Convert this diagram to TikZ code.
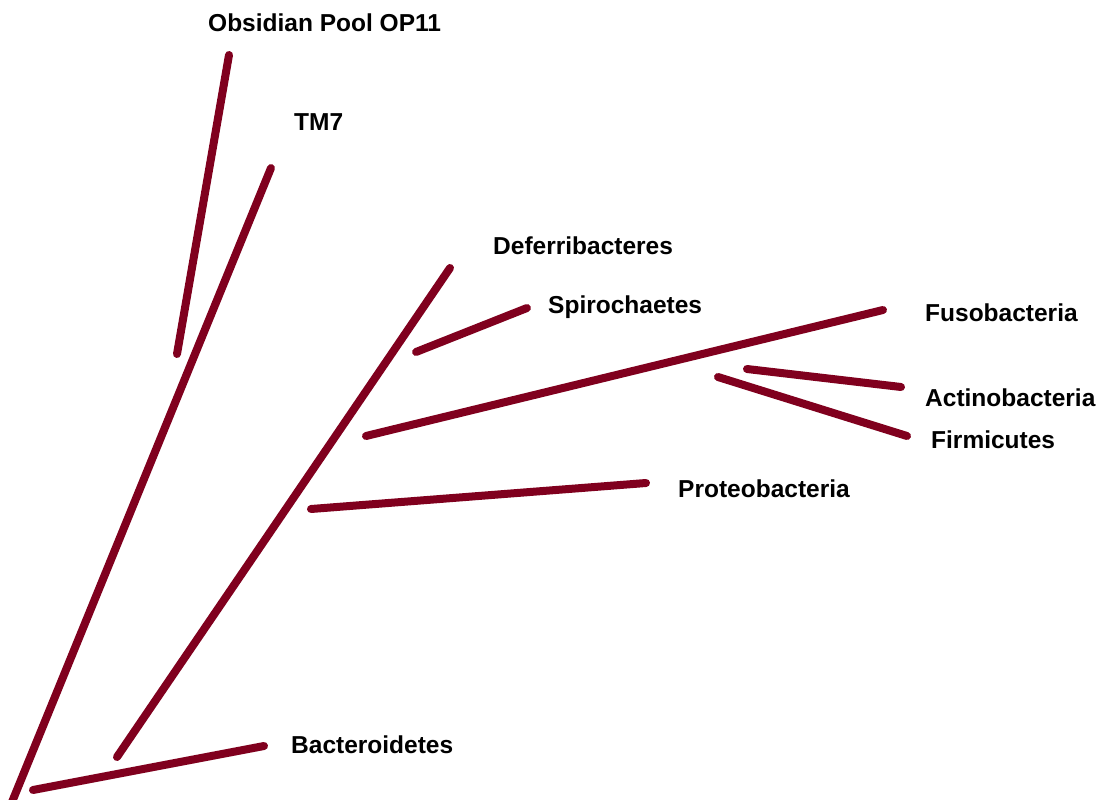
\documentclass[tikz,border=0pt]{standalone}
\usepackage{fontspec}
\setmainfont{Liberation Sans}
\definecolor{branch}{RGB}{128,0,30}
\begin{document}
\begin{tikzpicture}[x=1pt,y=-1pt,
  br/.style={draw=branch,line width=8pt,line cap=round},
  lab/.style={anchor=west,inner sep=0pt,font=\fontsize{24.5}{28}\selectfont\bfseries}]
\useasboundingbox[fill=white] (0,0) rectangle (1101,800);
% branch end points
\coordinate (r0) at (12,802);
\coordinate (tm7) at (271,168);
\coordinate (op1) at (229,55);
\coordinate (op0) at (177,354);
\coordinate (ba0) at (33,790);
\coordinate (ba1) at (264,746);
\coordinate (de0) at (117,757);
\coordinate (de1) at (450,268);
\coordinate (sp0) at (416,352);
\coordinate (sp1) at (527,308);
\coordinate (fu0) at (366,436);
\coordinate (fu1) at (883,310);
\coordinate (ac0) at (747,369);
\coordinate (ac1) at (901,387);
\coordinate (fi0) at (718,377);
\coordinate (fi1) at (907,436);
\coordinate (pr0) at (311,509);
\coordinate (pr1) at (646,483);
% branches
\draw[br] (r0) -- (tm7);
\draw[br] (op0) -- (op1);
\draw[br] (ba0) -- (ba1);
\draw[br] (de0) -- (de1);
\draw[br] (sp0) -- (sp1);
\draw[br] (fu0) -- (fu1);
\draw[br] (ac0) -- (ac1);
\draw[br] (fi0) -- (fi1);
\draw[br] (pr0) -- (pr1);
% labels
\node[lab] (lop) at (208,23) {Obsidian Pool OP11};
\node[lab] (ltm) at (294,122) {TM7};
\node[lab] (lde) at (493,246) {Deferribacteres};
\node[lab] (lsp) at (548,307) {Spirochaetes};
\node[lab] (lfu) at (925,313) {Fusobacteria};
\node[lab] (lac) at (925,398) {Actinobacteria};
\node[lab] (lfi) at (931,440) {Firmicutes};
\node[lab] (lpr) at (678,489) {Proteobacteria};
\node[lab] (lba) at (291,745) {Bacteroidetes};
\end{tikzpicture}
\end{document}
